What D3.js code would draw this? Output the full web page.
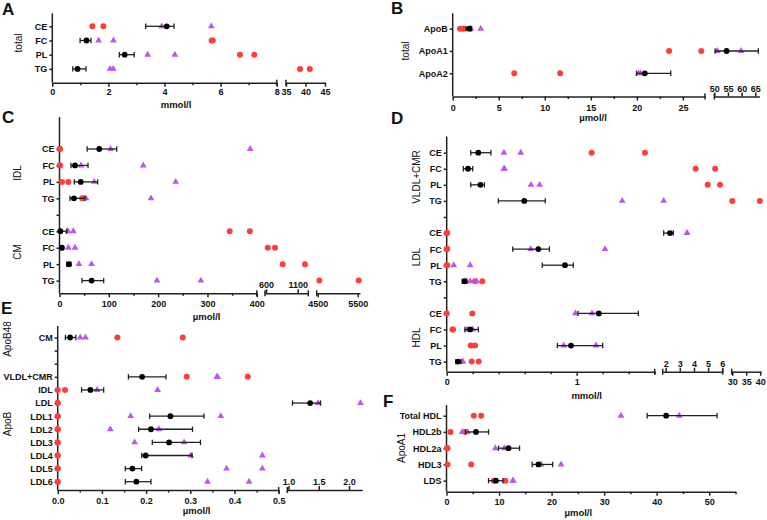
<!DOCTYPE html>
<html>
<head>
<meta charset="utf-8">
<script src="https://cdn.jsdelivr.net/npm/d3@7"></script>
<style>
    body { margin: 0; background: #fff; }
    svg text { font-family: "Liberation Sans", Arial, sans-serif; fill: #111; }
    .tick text { font-size: 9px; font-weight: bold; }
    .axis path, .axis line, .yline { stroke: #222; stroke-width: 1.5; }
    .grp { font-size: 10px; }
    .ttl { font-size: 9.5px; font-weight: bold; }
    .letter { font-size: 17px; font-weight: bold; }
</style>
</head>
<body>
<div id="chart"></div>
<script>

// ---- data ----

// A: total lipids (mmol/l)
const aRows = ["CE", "FC", "PL", "TG"];
const aMean = [4.08, 1.22, 2.58, 0.9];
const aLow = [3.33, 0.99, 2.39, 0.73];
const aHigh = [4.34, 1.38, 2.92, 1.2];
const aRed = [[1.43, 1.82], [5.68, 5.72], [6.69, 7.2], [38.6, 41.1]];
const aPurple = [[3.9, 5.67], [1.65, 2.18], [3.4, 4.37], [2.06, 2.17]];

// B: total apolipoproteins (µmol/l)
const bRows = ["ApoB", "ApoA1", "ApoA2"];
const bMean = [1.8, 54.5, 20.86];
const bLow = [1.44, 50.3, 19.96];
const bHigh = [2.06, 66.1, 23.68];
const bRed = [[0.79, 1.15], [23.5, 27.0], [6.68, 11.67]];
const bPurple = [[1.95, 3.04], [51.1, 59.8], [20.2, 20.4]];

// C: IDL / CM lipids (µmol/l)
const cRows = ["CE", "FC", "PL", "TG", "", "CE", "FC", "PL", "TG"];
const cMean = [80.6, 31.4, 43, 29.4, null, 1.7, 5, 19.3, 65];
const cLow = [56, 23.3, 30, 21.3, null, 0, 3, 14.6, 45.6];
const cHigh = [116, 57.8, 77.4, 51.7, null, 14.6, 7, 22.7, 89.6];
const cRed = [[0.5, 0.8], [0.5, 0.8], [5, 17.9], [46, 48], [], [345, 386], [627, 742], [863, 1215], [4540, 5525]];
const cPurple = [[103.7, 386.6], [43.6, 169.8], [70.5, 235.5], [53.7, 185.4], [], [17.2, 28], [18, 31.4], [39.5, 65], [197.6, 286.7]];

// D: VLDL+CMR / LDL / HDL lipids (mmol/l)
const dRows = ["CE", "FC", "PL", "TG", "", "CE", "FC", "PL", "TG", "", "CE", "FC", "PL", "TG"];
const dMean = [0.243, 0.164, 0.259, 0.597, null, 2.3, 0.705, 0.91, 0.138, null, 1.17, 0.18, 0.956, 0.087];
const dLow = [0.185, 0.128, 0.185, 0.397, null, 1.86, 0.508, 0.735, 0.12, null, 1.01, 0.14, 0.851, 0.07];
const dHigh = [0.34, 0.2, 0.29, 0.758, null, 2.54, 0.79, 0.974, 0.155, null, 1.474, 0.243, 1.2, 0.11];
const dRed = [[1.115, 1.525], [4.12, 5.5], [4.97, 5.84], [30, 39.9], [], [0, 0.004], [0, 0.004], [0, 0.004], [0.218, 0.274], [], [0, 0.197], [0.044, 0.048], [0.185, 0.218], [0.192, 0.246]];
const dPurple = [[0.44, 0.57], [0.44, 0.445], [0.648, 0.715], [1.35, 1.86], [], [3.5, 3.52], [0.646, 1.218], [0.054, 0.18], [0.18, 0.23], [], [0.99, 1.118], [0.158, 0.2], [0.9, 1.148], [0.12, 0.125]];

// E: ApoB48 / ApoB (µmol/l)
const eRows = ["CM", "", "", "VLDL+CMR", "IDL", "LDL", "LDL1", "LDL2", "LDL3", "LDL4", "LDL5", "LDL6"];
const eMean = [0.028, null, null, 0.191, 0.074, 1.357, 0.255, 0.211, 0.252, 0.199, 0.169, 0.178];
const eLow = [0.0174, null, null, 0.16, 0.054, 1.066, 0.208, 0.183, 0.214, 0.19, 0.153, 0.153];
const eHigh = [0.041, null, null, 0.245, 0.104, 1.53, 0.331, 0.305, 0.323, 0.304, 0.19, 0.211];
const eRed = [[0.135, 0.283], [], [], [0.292, 0.43], [0, 0.0166], [0, 0], [0, 0], [0, 0], [0, 0], [0, 0], [0, 0], [0, 0]];
const ePurple = [[0.051, 0.063], [], [], [0.36, 0.362], [0.089, 0.226], [1.49, 2.19], [0.165, 0.369], [0.119, 0.229], [0.174, 0.286], [0.301, 0.463], [0.382, 0.463], [0.339, 0.433]];

// F: ApoA1 (µmol/l)
const fRows = ["Total HDL", "HDL2b", "HDL2a", "HDL3", "LDS"];
const fMean = [41.8, 5.6, 11.8, 17.5, 9.4];
const fLow = [38.2, 3.6, 9.9, 16.3, 8.0];
const fHigh = [51.5, 8.0, 13.9, 20.2, 10.75];
const fRed = [[5.2, 6.6], [0.76, 3.6], [0.1, 0.2], [0.2, 4.7], [9.0, 11.2]];
const fPurple = [[33.2, 44.3], [3.0, 4.0], [9.3, 11.0], [18.0, 21.8], [12.6, 12.7]];

// ---- drawing ----

const RED = "#ff3d3d", PURPLE = "#c055ec", BLACK = "#000";

const svg = d3.select("#chart").append("svg")
    .attr("width", 767)
    .attr("height", 520);

// piecewise x scale for the broken axes
function brokenScale(segs) {
    let parts = segs.map(s => d3.scaleLinear().domain(s.d).range(s.r));
    return v => {
        for (let i = 0; i < segs.length - 1; i++) {
            if (v <= segs[i].d[1]) return parts[i](v);
        }
        return parts[segs.length - 1](v);
    };
}

function drawPanel(p, rows, mean, low, high, red, purple) {
    let g = svg.append("g");
    let x = brokenScale(p.segs);
    let y = d3.scaleLinear().domain([0, 1]).range([p.row0, p.row0 + p.step]);

    // y axis
    g.append("line").attr("class", "yline")
        .attr("x1", p.x0).attr("x2", p.x0)
        .attr("y1", p.top).attr("y2", p.axisY);
    g.append("g")
        .attr("class", "axis")
        .attr("transform", `translate(${p.x0},0)`)
        .call(d3.axisLeft(y).tickValues(d3.range(rows.length)).tickFormat(i => rows[i]).tickSize(3).tickPadding(2))
        .call(a => a.select(".domain").remove());

    // x axis, one piece per segment
    p.segs.forEach((s, k) => {
        let sc = d3.scaleLinear().domain(s.d).range(s.r);
        let fmt = s.fmt ? d3.format(s.fmt) : d3.format("d");
        let ax = (s.above ? d3.axisTop(sc) : d3.axisBottom(sc))
            .tickValues(s.ticks).tickSize(4).tickSizeOuter(0)
            .tickPadding(s.above ? 1 : p.pad).tickFormat(fmt);
        g.append("g").attr("class", "axis")
            .attr("transform", `translate(0,${p.axisY})`)
            .call(ax);
        if (s.minor) {
            g.append("g").attr("class", "axis")
                .attr("transform", `translate(0,${p.axisY})`)
                .call((s.above ? d3.axisTop(sc) : d3.axisBottom(sc)).tickValues(s.minor).tickSize(2.5).tickFormat(""))
                .call(a => a.select(".domain").remove());
        }
        // caps at the breaks
        let caps = [];
        if (k > 0) caps.push(s.r[0]);
        if (k < p.segs.length - 1) caps.push(s.r[1]);
        caps.forEach(cx => {
            g.append("line").attr("class", "yline")
                .attr("x1", cx).attr("x2", cx)
                .attr("y1", p.axisY - 3).attr("y2", p.axisY + 3);
        });
    });

    // axis title, group labels, panel letter
    g.append("text").attr("class", "ttl")
        .attr("x", p.title.x).attr("y", p.title.y)
        .attr("text-anchor", "middle").attr("dy", "0.35em")
        .text(p.title.text);

    p.groups.forEach(gr => {
        g.append("text").attr("class", "grp")
            .attr("transform", `translate(${gr.x},${gr.y}) rotate(-90)`)
            .attr("text-anchor", "middle").attr("dy", "0.35em")
            .text(gr.text);
    });

    g.append("text").attr("class", "letter")
        .attr("x", p.letter.x).attr("y", p.letter.y)
        .text(p.letter.t);

    // points
    rows.forEach((r, i) => {
        (red[i] || []).forEach(v => {
            g.append("circle")
                .attr("cx", x(v)).attr("cy", y(i)).attr("r", 3)
                .attr("fill", RED);
        });
        (purple[i] || []).forEach(v => {
            g.append("path")
                .attr("d", d3.symbol(d3.symbolTriangle).size(20))
                .attr("transform", `translate(${x(v)},${y(i)})`)
                .attr("fill", PURPLE);
        });
        if (mean[i] == null) return;
        let x1 = x(low[i]), x2 = x(high[i]);
        g.append("line")
            .attr("x1", x1).attr("x2", x2).attr("y1", y(i)).attr("y2", y(i))
            .attr("stroke", "#222").attr("stroke-width", 1.3);
        [x1, x2].forEach(cx => {
            g.append("line")
                .attr("x1", cx).attr("x2", cx).attr("y1", y(i) - 2.7).attr("y2", y(i) + 2.7)
                .attr("stroke", "#222").attr("stroke-width", 1.3);
        });
        g.append("circle")
            .attr("cx", x(mean[i])).attr("cy", y(i)).attr("r", 2.9)
            .attr("fill", BLACK);
    });
}

drawPanel({
    x0: 52.3, top: 13.3, axisY: 82.7, row0: 26.3, step: 14.2, pad: 2,
    segs: [
        {d: [0, 8], r: [52.3, 276.7], ticks: [0, 2, 4, 6, 8], minor: [1, 3, 5, 7]},
        {d: [35, 45], r: [286, 325], ticks: [35, 40, 45]}
    ],
    title: {x: 176, y: 105, text: "mmol/l"},
    groups: [{text: "total", x: 18.5, y: 43}],
    letter: {t: "A", x: 2, y: 15}
}, aRows, aMean, aLow, aHigh, aRed, aPurple);

drawPanel({
    x0: 452.7, top: 13.3, axisY: 96.5, row0: 28.7, step: 22.3, pad: 4.5,
    segs: [
        {d: [0, 27.4], r: [452.7, 705], ticks: [0, 5, 10, 15, 20, 25], minor: [2.5, 7.5, 12.5, 17.5, 22.5]},
        {d: [50, 66.5], r: [714.3, 759.4], ticks: [50, 55, 60, 65], above: true}
    ],
    title: {x: 593, y: 118, text: "µmol/l"},
    groups: [{text: "total", x: 405, y: 51}],
    letter: {t: "B", x: 391, y: 14}
}, bRows, bMean, bLow, bHigh, bRed, bPurple);

drawPanel({
    x0: 59.5, top: 117, axisY: 293.3, row0: 149, step: 16.45, pad: 3.5,
    segs: [
        {d: [0, 400], r: [59.5, 256.8], ticks: [0, 100, 200, 300, 400], minor: [50, 150, 250, 350]},
        {d: [584, 1267], r: [265, 308.3], ticks: [600, 1100], above: true},
        {d: [4475, 5558], r: [316.7, 360], ticks: [4500, 5500]}
    ],
    title: {x: 206.7, y: 316.7, text: "µmol/l"},
    groups: [{text: "IDL", x: 17, y: 173}, {text: "CM", x: 17, y: 252}],
    letter: {t: "C", x: 2, y: 123}
}, cRows, cMean, cLow, cHigh, cRed, cPurple);

drawPanel({
    x0: 446.7, top: 136.5, axisY: 371.7, row0: 152.7, step: 16.07, pad: 3,
    segs: [
        {d: [0, 1.6], r: [446.7, 654.7], ticks: [0, 1], minor: [0.2, 0.4, 0.6, 0.8, 1.2, 1.4, 1.6]},
        {d: [1.79, 6.03], r: [662.7, 722.7], ticks: [2, 3, 4, 5, 6], above: true},
        {d: [29.8, 40.3], r: [731.7, 761], ticks: [30, 35, 40]}
    ],
    title: {x: 586.7, y: 396, text: "mmol/l"},
    groups: [{text: "VLDL+CMR", x: 416.7, y: 177}, {text: "LDL", x: 416.7, y: 257}, {text: "HDL", x: 416, y: 337.5}],
    letter: {t: "D", x: 391, y: 124}
}, dRows, dMean, dLow, dHigh, dRed, dPurple);

drawPanel({
    x0: 57.7, top: 326, axisY: 490, row0: 337.5, step: 13.11, pad: 3.5,
    segs: [
        {d: [0, 0.5], r: [57.7, 278.7], ticks: [0, 0.1, 0.2, 0.3, 0.4, 0.5], minor: [0.05, 0.15, 0.25, 0.35, 0.45], fmt: ".1f"},
        {d: [0.98, 2.22], r: [287.3, 362.3], ticks: [1, 1.5, 2], fmt: ".1f", above: true}
    ],
    title: {x: 196.7, y: 511, text: "µmol/l"},
    groups: [{text: "ApoB48", x: 7.5, y: 339}, {text: "ApoB", x: 7.5, y: 424}],
    letter: {t: "E", x: 1, y: 314}
}, eRows, eMean, eLow, eHigh, eRed, ePurple);

drawPanel({
    x0: 446.5, top: 405, axisY: 491.7, row0: 415.7, step: 16.25, pad: 3,
    segs: [
        {d: [0, 55], r: [446.5, 735.5], ticks: [0, 10, 20, 30, 40, 50], minor: [5, 15, 25, 35, 45, 55]}
    ],
    title: {x: 578.3, y: 512.7, text: "µmol/l"},
    groups: [{text: "ApoA1", x: 401, y: 448}],
    letter: {t: "F", x: 383, y: 407}
}, fRows, fMean, fLow, fHigh, fRed, fPurple);

</script>
</body>
</html>
